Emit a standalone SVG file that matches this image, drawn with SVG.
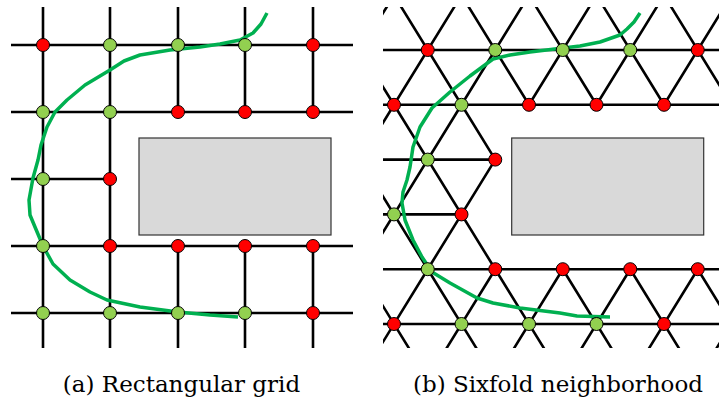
<svg xmlns="http://www.w3.org/2000/svg" width="719" height="399" viewBox="0 0 719 399">
<style>
.ln{stroke:#000;stroke-width:2.6;fill:none}
.obs{fill:#d9d9d9;stroke:#333;stroke-width:1.2}
.path{stroke:#00b050;stroke-width:3.5;fill:none;stroke-linejoin:round;stroke-linecap:butt}
.r{fill:#ff0000;stroke:#000;stroke-width:1}
.g{fill:#92d050;stroke:#000;stroke-width:1}
.cap{font-family:"DejaVu Serif","Liberation Serif",serif;font-size:23px;fill:#000;text-anchor:middle}
</style>
<defs>
<clipPath id="clipR"><rect x="383" y="7" width="336" height="341"/></clipPath>
</defs>
<rect width="719" height="399" fill="#fff"/>

<g id="panel-a">
<g id="grid-a-connectors">
<path class="ln" d="M11 45H353 M11 112H353 M11 179H110 M11 246H353 M11 313H353
M43 7V348 M110 7V348 M178 7V112 M178 246V348 M245 7V112 M245 246V348 M313 7V112 M313 246V348"/>
</g>
<g id="obstacle-a"><rect class="obs" x="139" y="138" width="192" height="97"/></g>
<polyline id="path-a" class="path" points="267,13 261,24 253,33 240,40 220,44 200,47 170,50 140,55 124,61 110,70 85,85 67,100 55,112 47,127 41,145 38,160 33,178 29,200 30,215 35,227 43,246 53,264 70,280 90,292 107,300 140,307 178,312 210,315 238,317"/>
<g id="nodes-a">
<circle class="r" cx="43" cy="45" r="6.5"/><circle class="g" cx="110" cy="45" r="6.5"/><circle class="g" cx="178" cy="45" r="6.5"/><circle class="g" cx="245" cy="45" r="6.5"/><circle class="r" cx="313" cy="45" r="6.5"/>
<circle class="g" cx="43" cy="112" r="6.5"/><circle class="g" cx="110" cy="112" r="6.5"/><circle class="r" cx="178" cy="112" r="6.5"/><circle class="r" cx="245" cy="112" r="6.5"/><circle class="r" cx="313" cy="112" r="6.5"/>
<circle class="g" cx="43" cy="179" r="6.5"/><circle class="r" cx="110" cy="179" r="6.5"/>
<circle class="g" cx="43" cy="246" r="6.5"/><circle class="r" cx="110" cy="246" r="6.5"/><circle class="r" cx="178" cy="246" r="6.5"/><circle class="r" cx="245" cy="246" r="6.5"/><circle class="r" cx="313" cy="246" r="6.5"/>
<circle class="g" cx="43" cy="313" r="6.5"/><circle class="g" cx="110" cy="313" r="6.5"/><circle class="g" cx="178" cy="313" r="6.5"/><circle class="g" cx="245" cy="313" r="6.5"/><circle class="r" cx="313" cy="313" r="6.5"/>
</g>
<text id="caption-a" class="cap" x="181.5" y="392">(a) Rectangular grid</text>
</g>

<g id="panel-b">
<g id="grid-b-connectors" clip-path="url(#clipR)">
<path class="ln" d="M383 50H719 M383 104.8H719 M383 159.6H495.25 M383 214.4H461.5 M383 269.2H719 M383 324H719
M326.5 -4.8L394 104.8 M394 -4.8L461.5 104.8 M461.5 -4.8L529 104.8 M529 -4.8L596.5 104.8 M596.5 -4.8L664 104.8 M664 -4.8L731.5 104.8
M394 -4.8L326.5 104.8 M461.5 -4.8L394 104.8 M529 -4.8L461.5 104.8 M596.5 -4.8L529 104.8 M664 -4.8L596.5 104.8 M731.5 -4.8L664 104.8
M394 104.8L360.25 159.6
M461.5 104.8L360.25 269.2
M495.25 159.6L427.75 269.2
M394 104.8L495.25 269.2
M461.5 104.8L495.25 159.6
M360.25 159.6L427.75 269.2
M360.25 269.2L427.75 378.8 M427.75 269.2L495.25 378.8 M495.25 269.2L562.75 378.8 M562.75 269.2L630.25 378.8 M630.25 269.2L697.75 378.8 M697.75 269.2L765.25 378.8
M427.75 269.2L360.25 378.8 M495.25 269.2L427.75 378.8 M562.75 269.2L495.25 378.8 M630.25 269.2L562.75 378.8 M697.75 269.2L630.25 378.8 M765.25 269.2L697.75 378.8"/>
</g>
<g id="obstacle-b"><rect class="obs" x="511.7" y="138" width="192" height="97"/></g>
<polyline id="path-b" class="path" points="640,13 634,22 627,29 620,35 600,42 580,46 563,48 530,52 510,55 493,59 470,76 450,92 432,108 420,127 413,147 410,167 407,180 403,192 402,203 405,220 413,240 422,257 432,272 450,283 477,298 493,303 520,308 560,313 577,316 610,317"/>
<g id="nodes-b">
<circle class="r" cx="427.75" cy="50" r="6.5"/><circle class="g" cx="495.25" cy="50" r="6.5"/><circle class="g" cx="562.75" cy="50" r="6.5"/><circle class="g" cx="630.25" cy="50" r="6.5"/><circle class="r" cx="697.75" cy="50" r="6.5"/>
<circle class="r" cx="394" cy="104.8" r="6.5"/><circle class="g" cx="461.5" cy="104.8" r="6.5"/><circle class="r" cx="529" cy="104.8" r="6.5"/><circle class="r" cx="596.5" cy="104.8" r="6.5"/><circle class="r" cx="664" cy="104.8" r="6.5"/>
<circle class="g" cx="427.75" cy="159.6" r="6.5"/><circle class="r" cx="495.25" cy="159.6" r="6.5"/>
<circle class="g" cx="394" cy="214.4" r="6.5"/><circle class="r" cx="461.5" cy="214.4" r="6.5"/>
<circle class="g" cx="427.75" cy="269.2" r="6.5"/><circle class="r" cx="495.25" cy="269.2" r="6.5"/><circle class="r" cx="562.75" cy="269.2" r="6.5"/><circle class="r" cx="630.25" cy="269.2" r="6.5"/><circle class="r" cx="697.75" cy="269.2" r="6.5"/>
<circle class="r" cx="394" cy="324" r="6.5"/><circle class="g" cx="461.5" cy="324" r="6.5"/><circle class="g" cx="529" cy="324" r="6.5"/><circle class="g" cx="596.5" cy="324" r="6.5"/><circle class="r" cx="664" cy="324" r="6.5"/>
</g>
<text id="caption-b" class="cap" x="558" y="392">(b) Sixfold neighborhood</text>
</g>
</svg>
